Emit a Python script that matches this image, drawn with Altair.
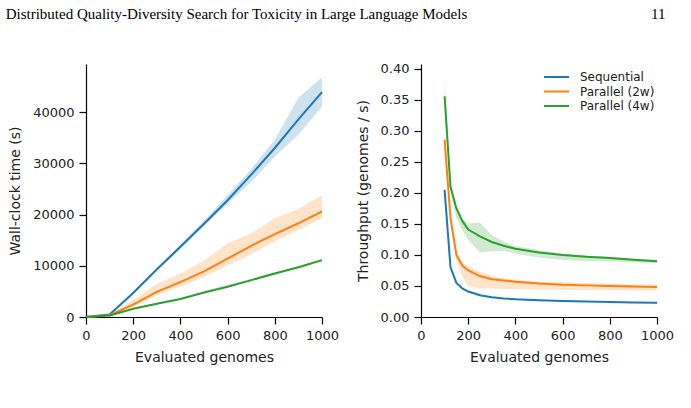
import altair as alt
import pandas as pd

series = ["Sequential", "Parallel (2w)", "Parallel (4w)"]
colors = ["#1f77b4", "#ff7f0e", "#2ca02c"]

# ---- Wall-clock time panel ----
x_time = [0, 100, 200, 300, 400, 500, 600, 700, 800, 900, 1000]
seq_time = [0, 490, 4700, 9300, 13700, 18200, 22800, 27800, 33000, 38600, 43900]
seq_time_lo = [0, 450, 4400, 8900, 13300, 17700, 22100, 26400, 31300, 35600, 41100]
seq_time_hi = [0, 530, 5000, 9700, 14100, 18800, 23800, 28900, 34600, 42800, 46800]
p2_time = [0, 350, 2400, 4900, 6800, 8900, 11400, 13900, 16200, 18300, 20600]
p2_time_lo = [0, 330, 1900, 4300, 5900, 7800, 10100, 12200, 14800, 17000, 19300]
p2_time_hi = [0, 370, 3300, 6500, 8500, 11000, 14400, 16300, 19300, 21100, 23800]
p4_time = [0, 280, 1600, 2600, 3500, 4800, 5900, 7200, 8500, 9700, 11100]
p4_time_lo = [0, 260, 1450, 2450, 3350, 4600, 5700, 7000, 8300, 9500, 10900]
p4_time_hi = [0, 300, 1750, 2750, 3650, 5000, 6300, 7400, 8700, 9900, 11300]

# ---- Throughput panel ----
x_tp = [100, 125, 150, 175, 200, 250, 300, 350, 400, 500, 600, 700, 800, 900, 1000]
seq_tp = [0.205, 0.080, 0.055, 0.046, 0.041, 0.035, 0.032, 0.030, 0.0287, 0.027, 0.026, 0.025, 0.0243, 0.0235, 0.0228]
seq_tp_lo = [0.203, 0.078, 0.053, 0.045, 0.040, 0.034, 0.031, 0.029, 0.0278, 0.0262, 0.0252, 0.0243, 0.0236, 0.0228, 0.0221]
seq_tp_hi = [0.207, 0.082, 0.057, 0.047, 0.042, 0.036, 0.033, 0.031, 0.0296, 0.0278, 0.0268, 0.0257, 0.025, 0.0242, 0.0235]
p2_tp = [0.286, 0.160, 0.100, 0.083, 0.075, 0.066, 0.061, 0.059, 0.057, 0.054, 0.052, 0.051, 0.050, 0.049, 0.0485]
p2_tp_lo = [0.280, 0.150, 0.090, 0.066, 0.050, 0.046, 0.046, 0.045, 0.045, 0.044, 0.044, 0.0435, 0.043, 0.043, 0.0425]
p2_tp_hi = [0.290, 0.170, 0.105, 0.087, 0.082, 0.073, 0.066, 0.062, 0.060, 0.057, 0.056, 0.055, 0.054, 0.053, 0.052]
p4_tp = [0.356, 0.210, 0.175, 0.155, 0.141, 0.130, 0.121, 0.115, 0.110, 0.104, 0.100, 0.097, 0.095, 0.0925, 0.090]
p4_tp_lo = [0.330, 0.200, 0.160, 0.140, 0.124, 0.104, 0.106, 0.107, 0.102, 0.096, 0.092, 0.090, 0.090, 0.088, 0.087]
p4_tp_hi = [0.383, 0.215, 0.180, 0.158, 0.151, 0.152, 0.132, 0.122, 0.114, 0.108, 0.102, 0.099, 0.097, 0.094, 0.092]

time_y_ticks = [0, 10000, 20000, 30000, 40000]
tp_y_ticks = [0.0, 0.05, 0.1, 0.15, 0.2, 0.25, 0.3, 0.35, 0.4]
x_ticks = [0, 200, 400, 600, 800, 1000]

header = "Distributed Quality-Diversity Search for Toxicity in Large Language Models"
page_no = "11"


def long_df(xs, groups):
    rows = []
    for name, (ys, lo, hi) in zip(series, groups):
        for x, y, l, h in zip(xs, ys, lo, hi):
            rows.append({"x": x, "series": name, "y": y, "lo": l, "hi": h})
    return pd.DataFrame(rows)


df_time = long_df(x_time, [(seq_time, seq_time_lo, seq_time_hi),
                           (p2_time, p2_time_lo, p2_time_hi),
                           (p4_time, p4_time_lo, p4_time_hi)])
df_tp = long_df(x_tp, [(seq_tp, seq_tp_lo, seq_tp_hi),
                       (p2_tp, p2_tp_lo, p2_tp_hi),
                       (p4_tp, p4_tp_lo, p4_tp_hi)])

cscale = alt.Scale(domain=series, range=colors)
W, H = 236, 253


def panel(df, ydomain, yticks, yfmt, ytitle, legend):
    xaxis = alt.Axis(values=x_ticks, format="d", title="Evaluated genomes", titlePadding=8)
    xscale = alt.Scale(domain=[0, 1000], nice=False, zero=False)
    yaxis = alt.Axis(values=yticks, format=yfmt, title=ytitle)
    yscale = alt.Scale(domain=ydomain, nice=False)
    base = alt.Chart(df)
    band = base.mark_area(opacity=0.22).encode(
        x=alt.X("x:Q", scale=xscale, axis=xaxis),
        y=alt.Y("lo:Q", scale=yscale, axis=yaxis),
        y2="hi:Q",
        color=alt.Color("series:N", scale=cscale, legend=legend),
    )
    line = base.mark_line(strokeWidth=2).encode(
        x=alt.X("x:Q", scale=xscale, axis=xaxis),
        y=alt.Y("y:Q", scale=yscale, axis=yaxis),
        color=alt.Color("series:N", scale=cscale, legend=legend),
    )
    return alt.layer(band, line).properties(width=W, height=H)


legend_r = alt.Legend(title=None, orient="none", legendX=122, legendY=6,
                      symbolType="stroke", symbolSize=625, symbolStrokeWidth=2,
                      symbolOpacity=1, labelFontSize=12, labelOffset=10, rowPadding=0.5,
                      clipHeight=14, labelFont="DejaVu Sans", labelColor="#222", padding=0)

left = panel(df_time, [0, 49400], time_y_ticks, "d", "Wall-clock time (s)", None)
right = panel(df_tp, [0, 0.408], tp_y_ticks, ".2f", "Throughput (genomes / s)", legend_r)

title_text = header + "\u00a0" * 49 + page_no

chart = alt.hconcat(left, right, spacing=99, bounds="flush").resolve_scale(
    color="independent"
).resolve_legend(color="independent").properties(
    title=alt.TitleParams(title_text, anchor="start", font="Liberation Serif",
                          fontSize=15, fontWeight="normal", color="#000", offset=41, dx=-3),
    padding={"left": 5, "top": 6, "right": 5, "bottom": 5},
).configure_view(stroke=None).configure_axis(
    grid=False, domainColor="#000", domainWidth=1.2, tickColor="#000", tickWidth=1.2,
    tickSize=7, labelPadding=5, labelFontSize=13, titleFontSize=14,
    labelFont="DejaVu Sans", titleFont="DejaVu Sans", titleFontWeight="normal",
    labelColor="#222", titleColor="#222", labelFlush=False, labelOverlap=False,
    titlePadding=10,
)

chart.save("out.html", embed_options={"renderer": "svg", "actions": False})
